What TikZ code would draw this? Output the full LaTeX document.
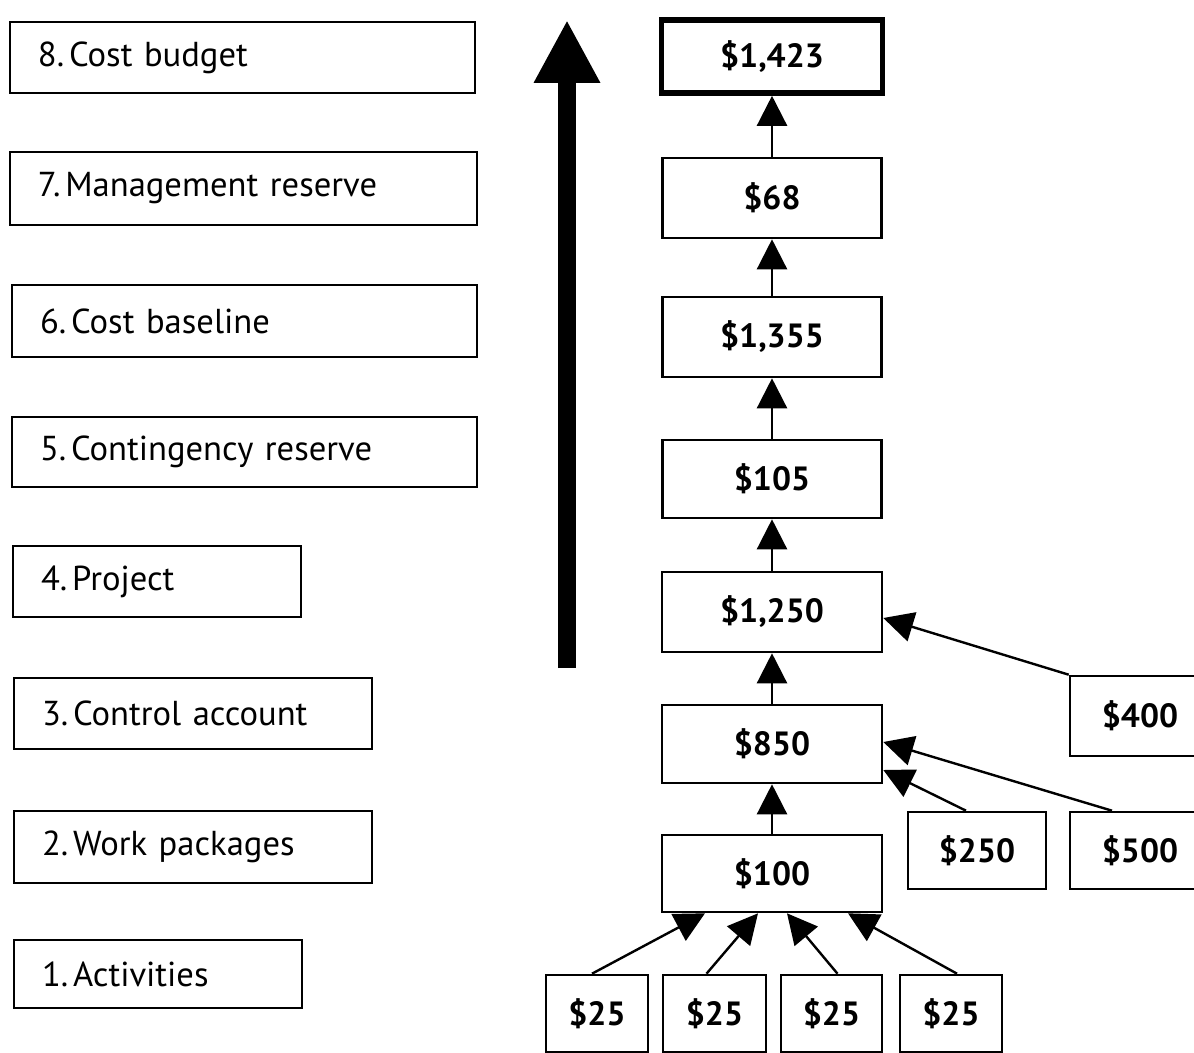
\documentclass[tikz,border=0pt]{standalone}
\usepackage{fontspec}
\setmainfont{PT Sans}
\usetikzlibrary{arrows.meta,calc}
\newcommand{\nsp}{\hspace{0.14em}}
\begin{document}
\begin{tikzpicture}[x=0.5pt,y=-0.5pt,
  levelbox/.style={draw, line width=1.3pt, inner xsep=14pt, inner ysep=0pt,
    align=left, font=\fontsize{17.3}{20}\selectfont},
  valbox/.style={draw, line width=1.3pt, inner sep=0pt,
    font=\fontsize{16.8}{19}\selectfont\bfseries},
  topbox/.style={valbox, line width=2.8pt},
  link/.style={line width=1.2pt, -{Triangle[width=15pt,length=15pt]}},
  bigarrow/.style={line width=9pt, -{Triangle[width=31pt,length=31.5pt]}}
]
\useasboundingbox (0,0) rectangle (1194,1053);
\clip (0,0) rectangle (1194,1053);

% level labels, left column
\node[levelbox, text width=204.5pt, minimum height=35.5pt] (l8) at (242.5,57.5) {8.\nsp Cost budget};
\node[levelbox, text width=205.5pt, minimum height=36.5pt] (l7) at (243.5,188.5) {7.\nsp Management reserve};
\node[levelbox, text width=204.5pt, minimum height=36pt]   (l6) at (244.5,321) {6.\nsp Cost baseline};
\node[levelbox, text width=204.5pt, minimum height=35pt]   (l5) at (244.5,452) {5.\nsp Contingency reserve};
\node[levelbox, text width=116pt,   minimum height=35.5pt] (l4) at (157,581.5) {4.\nsp Project};
\node[levelbox, text width=151pt,   minimum height=35.5pt] (l3) at (193,713.5) {3.\nsp Control account};
\node[levelbox, text width=151pt,   minimum height=36pt]   (l2) at (193,847) {2.\nsp Work packages};
\node[levelbox, text width=116pt,   minimum height=34pt]   (l1) at (158,974) {1.\nsp Activities};

% roll-up direction
\coordinate (upbase) at (567,668);
\coordinate (uptip)  at (567,20);
\draw[bigarrow] (upbase) -- (uptip);

% main roll-up column
\node[topbox, minimum width=110.5pt, minimum height=36.5pt] (b1423) at (772,56.5) {\$1,423};
\node[valbox, minimum width=109.5pt, minimum height=40pt]   (b68)   at (772,198) {\$68};
\node[valbox, minimum width=109.5pt, minimum height=40pt]   (b1355) at (772,337) {\$1,355};
\node[valbox, minimum width=109.5pt, minimum height=39pt]   (b105)  at (772,479) {\$105};
\node[valbox, minimum width=110pt, minimum height=40pt]   (b1250) at (772,612) {\$1,250};
\node[valbox, minimum width=110pt, minimum height=39pt]   (b850)  at (772,744) {\$850};
\node[valbox, minimum width=110pt, minimum height=38.5pt] (b100)  at (772,873.5) {\$100};

% side contributions
\node[valbox, minimum width=70pt, minimum height=40pt]   (b400) at (1140,716) {\$400};
\node[valbox, minimum width=69pt, minimum height=38.5pt] (b250) at (977,850.5) {\$250};
\node[valbox, minimum width=70pt, minimum height=38.5pt] (b500) at (1140,850.5) {\$500};

% activities
\node[valbox, minimum width=51pt,   minimum height=38.5pt] (c1) at (597,1013.5) {\$25};
\node[valbox, minimum width=51.5pt, minimum height=38.5pt] (c2) at (714.5,1013.5) {\$25};
\node[valbox, minimum width=50.5pt, minimum height=38.5pt] (c3) at (831.5,1013.5) {\$25};
\node[valbox, minimum width=51pt,   minimum height=38.5pt] (c4) at (951,1013.5) {\$25};

% vertical roll-up links
\draw[link] (b68.north)   -- (b1423.south);
\draw[link] (b1355.north) -- (b68.south);
\draw[link] (b105.north)  -- (b1355.south);
\draw[link] (b1250.north) -- (b105.south);
\draw[link] (b850.north)  -- (b1250.south);
\draw[link] (b100.north)  -- (b850.south);

% activities into the work package
\draw[link] ($(c1.north)+(-5,0)$) -- ($(b100.south)+(-67,0)$);
\draw[link] ($(c2.north)+(-8,0)$) -- ($(b100.south)+(-14,0)$);
\draw[link] ($(c3.north)+(6,0)$)  -- ($(b100.south)+(15,0)$);
\draw[link] ($(c4.north)+(6,0)$)  -- ($(b100.south)+(76,0)$);

% side links
\draw[link] ($(b250.north)+(-11,0)$) -- ($(b850.east)+(0,26)$);
\draw[link] ($(b500.north)+(-28,0)$) -- ($(b850.east)+(0,-2)$);
\draw[link] (b400.north west) -- ($(b1250.east)+(0,6)$);
\end{tikzpicture}
\end{document}
